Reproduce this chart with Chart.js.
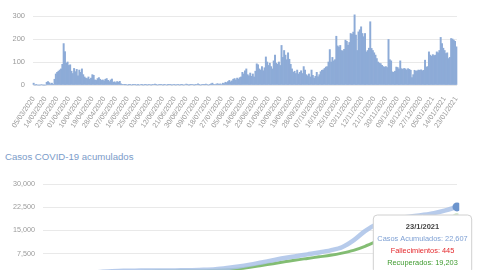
<!DOCTYPE html>
<html><head><meta charset="utf-8">
<script src="https://cdn.jsdelivr.net/npm/chart.js@4/dist/chart.umd.min.js"></script>
<style>
html,body{margin:0;padding:0;background:#fff;overflow:hidden;width:480px;height:270px;position:relative;}
#c1{position:absolute;left:0;top:0;}
#title{position:absolute;left:5px;top:151px;font:9.6px "Liberation Sans",Arial,sans-serif;color:#7b9bc9;white-space:nowrap;}
#c2{position:absolute;left:0;top:168px;}
</style></head><body>
<canvas id="c1" width="480" height="140"></canvas>
<div id="title">Casos COVID-19 acumulados</div>
<canvas id="c2" width="480" height="150"></canvas>
<script>
const FONT = '"Liberation Sans", Arial, sans-serif';
const startDate = [2020, 2, 5]; // 05/03/2020
const labelEvery = 9;

const dailyCases = [
 8,0,1,0,0,0,2,0,0,0,
 12,15,10,5,8,3,25,48,55,60,
 65,70,90,180,145,95,100,85,88,60,
 50,72,58,68,40,65,55,70,45,35,
 30,28,35,25,30,45,42,22,20,28,
 32,25,20,22,18,25,28,20,15,22,
 26,12,14,10,15,12,16,5,3,2,
 1,2,0,1,3,0,1,2,1,0,
 1,0,2,1,0,1,3,0,1,2,
 0,1,2,4,1,0,2,1,3,0,
 1,2,0,1,3,1,0,2,1,0,
 2,1,0,3,1,0,2,4,1,0,
 1,3,2,0,1,2,5,1,0,2,
 3,1,4,2,0,3,5,8,3,2,
 4,6,3,5,2,8,6,12,10,15,
 20,14,18,25,28,22,30,26,32,35,
 55,48,62,70,45,40,52,38,48,35,
 60,92,88,70,65,80,62,75,122,100,
 85,95,80,70,105,130,95,90,100,85,
 172,120,150,130,110,140,112,90,70,55,
 60,50,65,48,55,62,50,80,65,45,
 40,48,35,65,42,30,38,55,36,45,
 58,64,66,72,78,80,100,154,100,120,
 105,110,212,170,165,172,150,148,155,195,
 190,173,185,224,220,230,305,217,150,231,
 240,253,224,210,224,144,150,160,275,159,
 150,140,130,115,100,95,93,85,80,78,
 80,76,198,110,105,57,55,60,78,76,
 70,105,71,68,72,70,65,71,68,64,
 32,45,64,60,62,65,64,66,62,64,
 108,78,80,144,130,125,132,128,130,144,
 140,150,207,180,160,150,137,140,115,120,
 202,200,195,190,166
];

const cumCases = [5,60,400,900,1350,1650,1850,2000,2050,2080,2100,2120,2150,2200,2300,2500,2900,3400,4000,4700,5400,6100,6700,7300,7900,8600,9600,11800,14800,17000,18200,19000,19500,20000,20600,21500,22607];
const cumDeaths = [0,0,2,20,45,60,70,75,76,77,78,78,79,80,82,85,95,110,130,150,170,190,210,225,240,255,275,300,330,360,385,400,410,420,430,438,445];
const cumRecovered = [0,0,50,200,500,900,1300,1600,1750,1850,1900,1950,1980,2000,2050,2150,2300,2600,3100,3700,4300,4900,5500,6000,6500,7000,7700,8600,9900,11500,13200,14600,15700,16600,17400,18300,19203];

const seriesNames = ['Casos Acumulados','Fallecimientos','Recuperados'];
const seriesText = ['#7d9fd3','#e4272b','#3f9b2f'];

const pad = n => (n < 10 ? '0' : '') + n;
const dayLabels = [];
const cumLabels = [];
for (let i = 0; i < dailyCases.length; i++) {
  const d = new Date(startDate[0], startDate[1], startDate[2] + i);
  dayLabels.push(pad(d.getDate()) + '/' + pad(d.getMonth() + 1) + '/' + d.getFullYear());
  if (i % labelEvery === 0) cumLabels.push(d.getDate() + '/' + (d.getMonth() + 1) + '/' + d.getFullYear());
}

new Chart(document.getElementById('c1'), {
  type: 'bar',
  data: { labels: dayLabels, datasets: [{ data: dailyCases, backgroundColor: '#8dabd7', borderWidth: 0, barPercentage: 1, categoryPercentage: 1, clip: false }] },
  options: {
    responsive: false, animation: false,
    plugins: { legend: { display: false }, tooltip: { enabled: false } },
    layout: { padding: { top: 16, right: 23, left: 0, bottom: 0 } },
    scales: {
      x: {
        grid: { display: false }, border: { display: false },
        ticks: { autoSkip: false, maxRotation: 56, minRotation: 56, padding: 2, color: '#9a9a9a', font: { size: 7.2, family: FONT },
          callback: (v, i) => (i % labelEvery === 0 ? dayLabels[i] : '') },
        afterFit: s => { s.height = 55; }
      },
      y: {
        min: 0, max: 300,
        ticks: { stepSize: 100, padding: 8, color: '#9a9a9a', font: { size: 7.5, family: FONT } },
        grid: { color: '#e9e9e9', drawTicks: false }, border: { display: false },
        afterFit: s => { s.width = 33; }
      }
    }
  }
});

Chart.Tooltip.positioners.fixedPos = function () {
  return { x: this.chart.chartArea.right - 34.5, y: 47 };
};

const ch2 = new Chart(document.getElementById('c2'), {
  type: 'line',
  data: {
    labels: cumLabels,
    datasets: [
      { label: seriesNames[0], data: cumCases, borderColor: 'rgba(170,194,231,0.85)', borderWidth: 4.5, pointRadius: 0, pointHoverRadius: 4.5, pointHoverBackgroundColor: '#6b94cd', pointHoverBorderWidth: 0, tension: 0.3 },
      { label: seriesNames[1], data: cumDeaths, borderColor: 'rgba(228,60,60,0.8)', borderWidth: 3, pointRadius: 0, pointHoverRadius: 4, pointHoverBackgroundColor: '#f3b0b0', pointHoverBorderWidth: 0, tension: 0.3 },
      { label: seriesNames[2], data: cumRecovered, borderColor: 'rgba(100,172,80,0.8)', borderWidth: 3, pointRadius: 0, pointHoverRadius: 4.5, pointHoverBackgroundColor: '#d4e8cc', pointHoverBorderWidth: 0, tension: 0.3 }
    ]
  },
  options: {
    responsive: false, animation: false,
    interaction: { mode: 'index', intersect: false },
    layout: { padding: { top: 16, right: 23, left: 0, bottom: 0 } },
    plugins: {
      legend: { display: false },
      tooltip: {
        position: 'fixedPos', xAlign: 'center', yAlign: 'top', caretSize: 0, caretPadding: 0,
        backgroundColor: '#ffffff', borderColor: '#d0d0d0', borderWidth: 1, cornerRadius: 4,
        displayColors: false, titleColor: '#444', titleAlign: 'center', bodyAlign: 'center',
        titleFont: { size: 7.5, weight: 'bold', family: FONT }, bodyFont: { size: 7.4, family: FONT },
        padding: { top: 7, left: 4, right: 4, bottom: 6 }, titleMarginBottom: 4, bodySpacing: 2.8,
        callbacks: {
          label: ctx => ctx.dataset.label + ': ' + ctx.parsed.y.toLocaleString('en-US'),
          labelTextColor: ctx => seriesText[ctx.datasetIndex]
        }
      }
    },
    scales: {
      x: { grid: { display: false }, border: { display: false }, ticks: { display: false }, afterFit: s => { s.height = 41; } },
      y: {
        min: 0, max: 30000,
        ticks: { stepSize: 7500, padding: 8, color: '#9a9a9a', font: { size: 7.2, family: FONT }, callback: v => v.toLocaleString('en-US') },
        grid: { color: '#e9e9e9', drawTicks: false }, border: { display: false },
        afterFit: s => { s.width = 43; }
      }
    }
  }
});

const last = cumCases.length - 1;
const act = [0, 1, 2].map(d => ({ datasetIndex: d, index: last }));
ch2.setActiveElements(act);
ch2.tooltip.setActiveElements(act, { x: 0, y: 0 });
ch2.update();
</script>
</body></html>
